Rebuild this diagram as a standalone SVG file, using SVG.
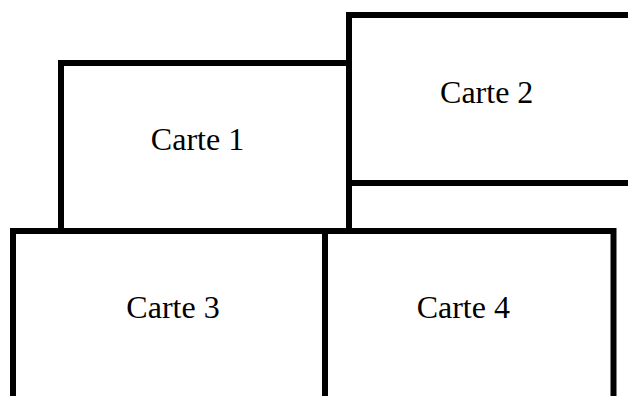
<svg xmlns="http://www.w3.org/2000/svg" width="628" height="396" viewBox="0 0 628 396">
<style>
.card{fill:#fff;stroke:#000;stroke-width:6}
.lbl{font-family:"Liberation Serif","Times New Roman",serif;font-size:32px;fill:#000;text-anchor:middle}
</style>
<rect width="628" height="396" fill="#fff"/>
<g id="carte1"><rect class="card" x="61" y="63" width="288" height="168"/><text class="lbl" x="197.5" y="150">Carte 1</text></g>
<g id="carte2"><rect class="card" x="349" y="15" width="288" height="168"/><text class="lbl" x="486.7" y="103">Carte 2</text></g>
<g id="carte3"><rect class="card" x="13" y="231" width="312" height="170"/><text class="lbl" x="173" y="318">Carte 3</text></g>
<g id="carte4"><rect class="card" x="325" y="231" width="288.5" height="170"/><text class="lbl" x="463.3" y="318">Carte 4</text></g>
<g id="connectors"/>
</svg>
